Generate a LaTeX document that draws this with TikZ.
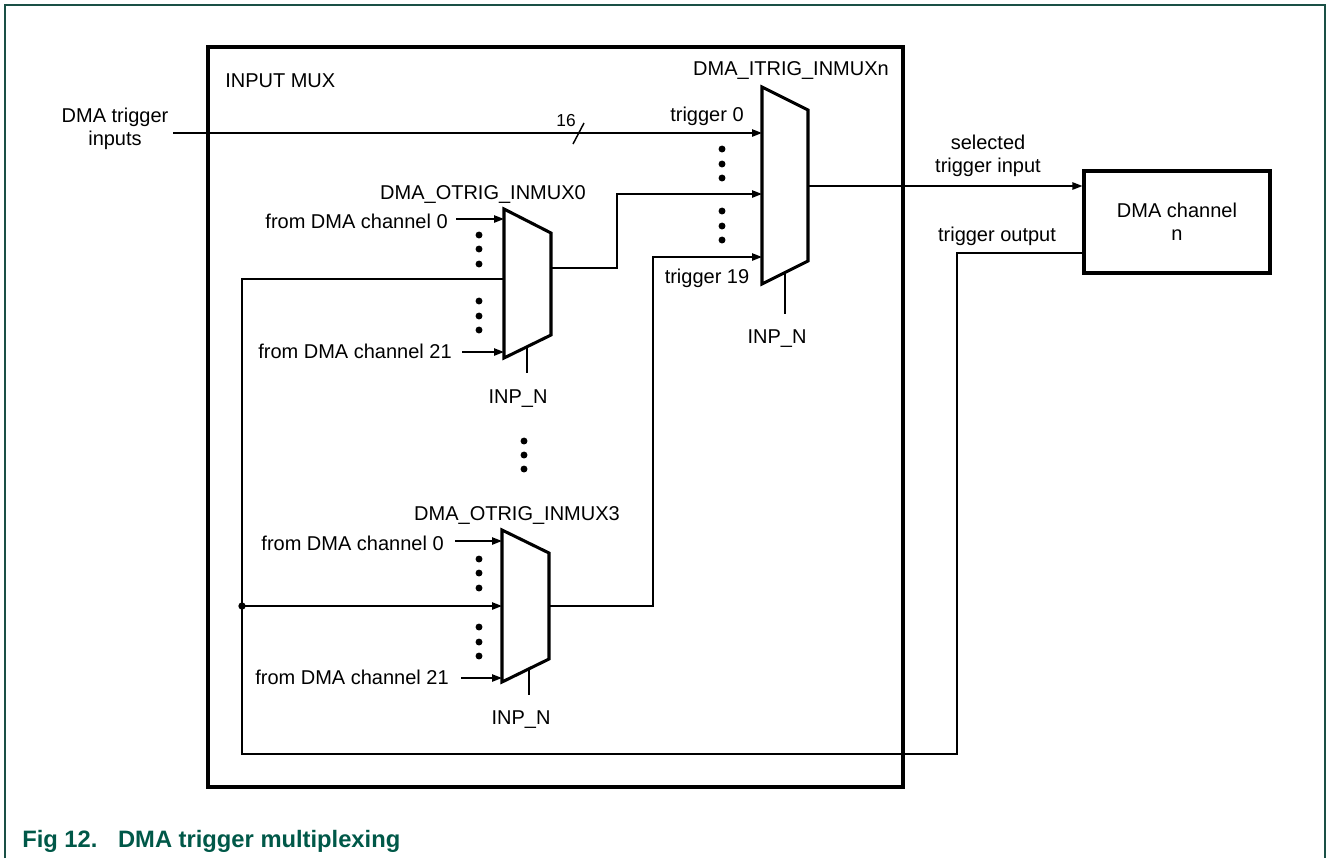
\documentclass[tikz,border=0pt]{standalone}
\usepackage{fontspec}
\setmainfont{Liberation Sans}
\usetikzlibrary{arrows.meta}
\definecolor{framegreen}{RGB}{26,80,70}
\definecolor{capgreen}{RGB}{0,88,72}
\begin{document}
\begin{tikzpicture}[x=0.75pt,y=-0.75pt,
  lbl/.style={font=\fontsize{15}{17.25}\selectfont, inner sep=0pt},
  wire/.style={line width=1.1pt},
  arr/.style={wire,-{Triangle[length=7.5pt,width=5.5pt]}},
  thickline/.style={line width=2.3pt, line join=miter},
  dotc/.style={circle, fill, inner sep=0pt, minimum size=5.2pt}]
\useasboundingbox (0,0) rectangle (1326,858);

% outer frame (open at the bottom)
\draw[framegreen, line width=1.4pt] (5,858) -- (5,5) -- (1325,5) -- (1325,858);

% INPUT MUX block
\draw[thickline] (208,47) rectangle (903,787);
\node[lbl, anchor=base west] (inmuxlbl) at (225,87) {INPUT MUX};

% ---------- mux ITRIG ----------
\coordinate (iA) at (762,87);
\coordinate (iB) at (808,110);
\coordinate (iC) at (808,261);
\coordinate (iD) at (762,284);
\draw[thickline] (iA) -- (iB) -- (iC) -- (iD) -- cycle;
\coordinate (iin0) at (762,133);
\coordinate (iin1) at (762,194);
\coordinate (iin2) at (762,257);
\coordinate (iout) at (808,186);
\coordinate (isel) at (785,272.5);
\coordinate (iselend) at (785,314);
\node[lbl, anchor=base] (ilbl) at (791,75) {DMA\_ITRIG\_INMUXn};
\node[lbl, anchor=base] (trig0) at (707,121) {trigger 0};
\node[lbl, anchor=base] (trig19) at (707,283) {trigger 19};
\node[lbl, anchor=base] (iinp) at (777,343) {INP\_N};
\draw[wire] (isel) -- (iselend);
\foreach \yy [count=\k] in {149,164,178,211,226,240}
  \node[dotc] (idot\k) at (722,\yy) {};

% ---------- mux OTRIG0 ----------
\coordinate (aA) at (504,209);
\coordinate (aB) at (551,233);
\coordinate (aC) at (551,335);
\coordinate (aD) at (504,358);
\draw[thickline] (aA) -- (aB) -- (aC) -- (aD) -- cycle;
\coordinate (ain0) at (504,219);
\coordinate (ain1) at (504,279);
\coordinate (ain2) at (504,352);
\coordinate (aout) at (551,268);
\coordinate (asel) at (527,347);
\coordinate (aselend) at (527,373);
\node[lbl, anchor=base] (albl) at (483,199) {DMA\_OTRIG\_INMUX0};
\node[lbl, anchor=base east] (afrom0) at (448,228) {from DMA channel 0};
\node[lbl, anchor=base east] (afrom21) at (452,358) {from DMA channel 21};
\node[lbl, anchor=base] (ainp) at (518,403) {INP\_N};
\coordinate (asrc0) at (456,219);
\coordinate (asrc2) at (462,352);
\draw[arr] (asrc0) -- (ain0);
\draw[arr] (asrc2) -- (ain2);
\draw[wire] (asel) -- (aselend);
\foreach \yy [count=\k] in {235,249,264,301,316,330}
  \node[dotc] (adot\k) at (479,\yy) {};

% vertical ellipsis between the two OTRIG muxes
\foreach \yy [count=\k] in {441,455,469}
  \node[dotc] (mdot\k) at (524,\yy) {};

% ---------- mux OTRIG3 ----------
\coordinate (bA) at (502,530);
\coordinate (bB) at (549,553);
\coordinate (bC) at (549,659);
\coordinate (bD) at (502,682);
\draw[thickline] (bA) -- (bB) -- (bC) -- (bD) -- cycle;
\coordinate (bin0) at (502,541);
\coordinate (bin1) at (502,606);
\coordinate (bin2) at (502,678);
\coordinate (bout) at (549,606);
\coordinate (bsel) at (529,669);
\coordinate (bselend) at (529,695);
\node[lbl, anchor=base] (blbl) at (517,520) {DMA\_OTRIG\_INMUX3};
\node[lbl, anchor=base east] (bfrom0) at (444,550) {from DMA channel 0};
\node[lbl, anchor=base east] (bfrom21) at (449,684) {from DMA channel 21};
\node[lbl, anchor=base] (binp) at (521,724) {INP\_N};
\coordinate (bsrc0) at (455,541);
\coordinate (bsrc2) at (461,678);
\draw[arr] (bsrc0) -- (bin0);
\draw[arr] (bsrc2) -- (bin2);
\draw[wire] (bsel) -- (bselend);
\foreach \yy [count=\k] in {559,573,588,627,642,656}
  \node[dotc] (bdot\k) at (479,\yy) {};

% ---------- DMA channel ----------
\node[draw, line width=2.3pt, minimum width=139.5pt, minimum height=76.5pt,
      align=center, font=\fontsize{15}{17.25}\selectfont, inner sep=0pt] (dmach) at (1177,222) {DMA channel\\n};

% ---------- trigger inputs ----------
\node[lbl, align=center] (dtlbl) at (115,129) {DMA trigger\\inputs};
\coordinate (dtin) at (173,133);
\draw[arr] (dtin) -- (iin0);
\draw[wire] (584,123) -- (573,144);
\node[font=\fontsize{13}{15}\selectfont, inner sep=0pt, anchor=base] (sixteen) at (566,126) {16};

% mux outputs into ITRIG
\draw[arr] (aout) -- (617,268) -- (617,194) -- (iin1);
\draw[arr] (bout) -- (653,606) -- (653,257) -- (iin2);

% selected trigger input
\draw[arr] (iout) -- (iout -| dmach.west);
\node[lbl, align=center] (sellbl) at (988,156) {selected\\trigger input};

% trigger output feedback
\coordinate (tout) at (1084,253);
\coordinate (junc) at (242,606);
\draw[wire] (tout) -- (957,253) -- (957,754) -- (242,754) -- (242,279) -- (ain1);
\draw[arr] (junc) -- (bin1);
\node[dotc, minimum size=5.5pt] (juncdot) at (junc) {};
\node[lbl, anchor=base] (toutlbl) at (997,241) {trigger output};

% caption
\node[anchor=base west, inner sep=0pt, text=capgreen,
      font=\fontsize{17.8}{20}\selectfont\bfseries] (caption) at (22,847)
  {Fig 12.\hspace*{15.5pt}DMA trigger multiplexing};
\end{tikzpicture}
\end{document}
